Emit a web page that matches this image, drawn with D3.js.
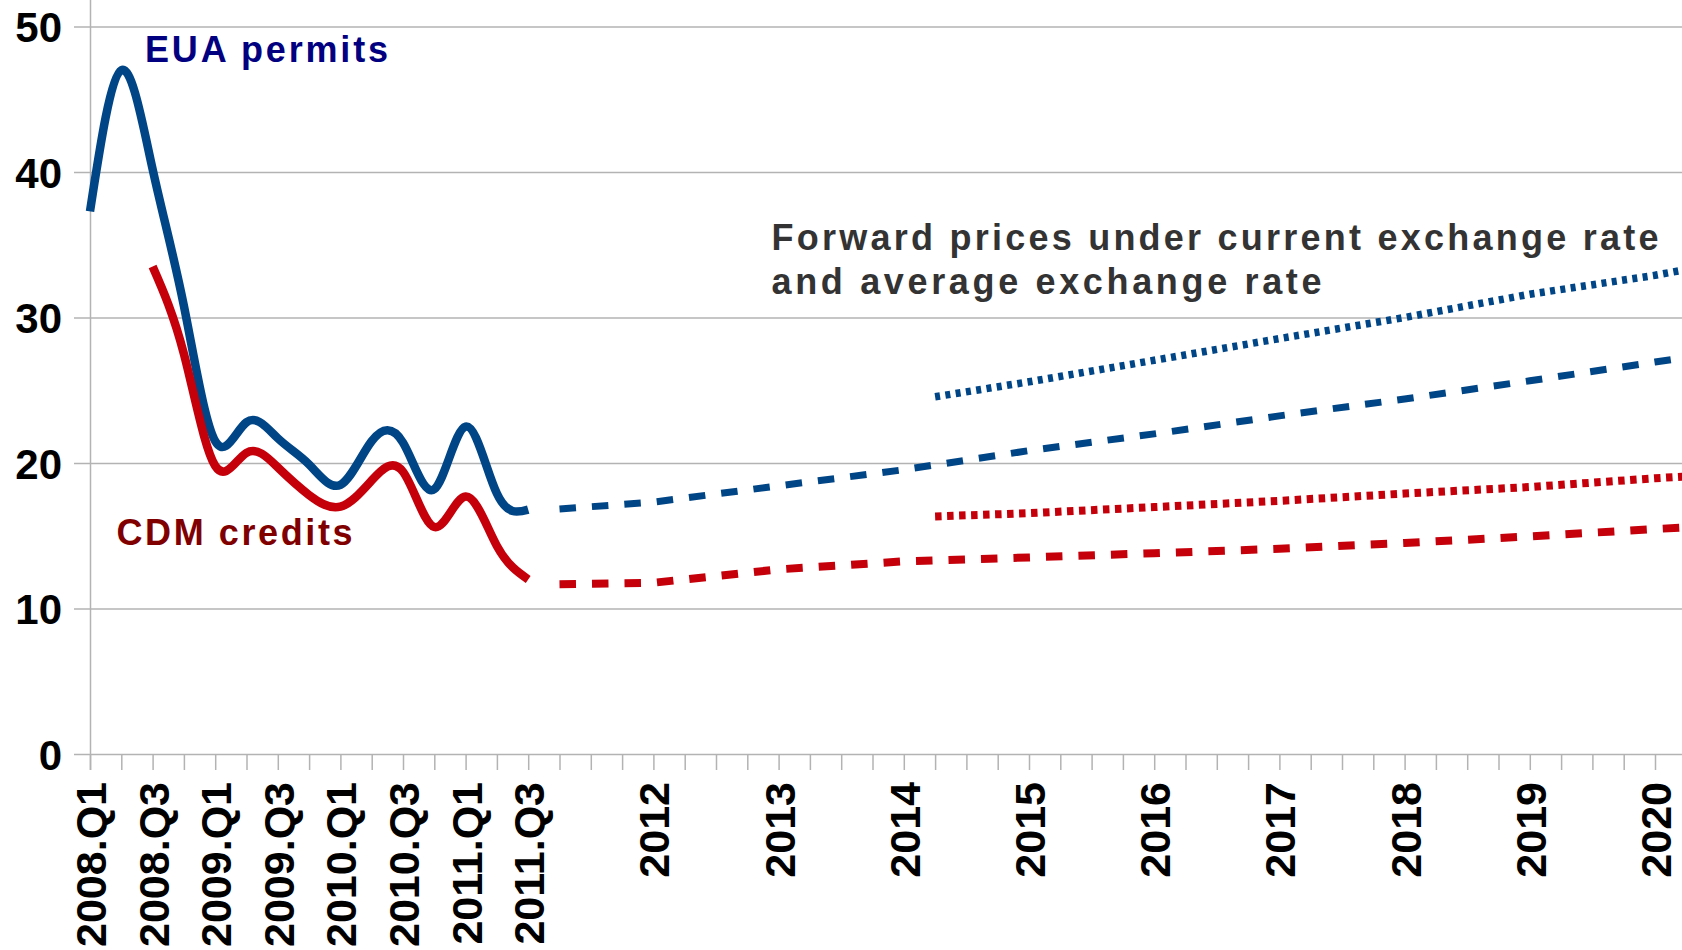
<!DOCTYPE html>
<html>
<head>
<meta charset="utf-8">
<script src="https://cdn.jsdelivr.net/npm/d3@7"></script>
<style>
  html, body { margin: 0; padding: 0; background: #fff; }
  svg { display: block; font-family: "Liberation Sans", Arial, sans-serif; }
</style>
</head>
<body>
<svg id="chart"></svg>
<script>
// every quarter on the category axis
const quarters = [
  "2008.Q1","2008.Q2","2008.Q3","2008.Q4","2009.Q1","2009.Q2","2009.Q3","2009.Q4",
  "2010.Q1","2010.Q2","2010.Q3","2010.Q4","2011.Q1","2011.Q2","2011.Q3","2011.Q4",
  "2012.Q1","2012.Q2","2012.Q3","2012.Q4","2013.Q1","2013.Q2","2013.Q3","2013.Q4",
  "2014.Q1","2014.Q2","2014.Q3","2014.Q4","2015.Q1","2015.Q2","2015.Q3","2015.Q4",
  "2016.Q1","2016.Q2","2016.Q3","2016.Q4","2017.Q1","2017.Q2","2017.Q3","2017.Q4",
  "2018.Q1","2018.Q2","2018.Q3","2018.Q4","2019.Q1","2019.Q2","2019.Q3","2019.Q4",
  "2020.Q1","2020.Q2","2020.Q3","2020.Q4"
];

// labelled ticks
const tickQuarters = ["2008.Q1","2008.Q3","2009.Q1","2009.Q3","2010.Q1","2010.Q3","2011.Q1","2011.Q3",
  "2012.Q3","2013.Q3","2014.Q3","2015.Q3","2016.Q3","2017.Q3","2018.Q3","2019.Q3","2020.Q3"];
const tickText = ["2008.Q1","2008.Q3","2009.Q1","2009.Q3","2010.Q1","2010.Q3","2011.Q1","2011.Q3",
  "2012","2013","2014","2015","2016","2017","2018","2019","2020"];

const yTicks = [0, 10, 20, 30, 40, 50];

// observed quarterly prices
const histQuarters = quarters.slice(0, 15);
const euaHist = [37.3, 47.0, 40.2, 30.8, 21.5, 22.8, 21.7, 19.9, 18.5, 21.5, 21.4, 18.2, 22.5, 17.9, 16.8];
const cdmHist = [null, null, 33.5, 27.5, 19.8, 20.7, 19.7, 17.8, 17.0, 18.8, 19.4, 15.6, 17.7, 14.3, 12.0];

// forward prices, dashed (current exchange rate)
const fwdQuarters = ["2011.Q4","2012.Q3","2013.Q3","2014.Q3","2015.Q3","2016.Q3","2017.Q3","2018.Q3","2019.Q3","2020.Q3","2020.Q4"];
const euaFwdCur = [16.84, 17.31, 18.43, 19.54, 20.85, 22.0, 23.24, 24.4, 25.65, 26.94, 27.25];
const cdmFwdCur = [11.66, 11.77, 12.69, 13.24, 13.51, 13.8, 14.1, 14.5, 14.96, 15.46, 15.58];

// forward prices, dotted (average exchange rate)
const avgQuarters = ["2014.Q4","2015.Q3","2016.Q3","2017.Q3","2018.Q3","2019.Q3","2020.Q3","2020.Q4"];
const euaFwdAvg = [24.55, 25.58, 27.06, 28.55, 30.0, 31.6, 32.9, 33.3];
const cdmFwdAvg = [16.33, 16.55, 16.97, 17.4, 17.9, 18.35, 18.95, 19.08];

const width = 1682, height = 950;
const blue = "#004586", red = "#c5000b", grid = "#b3b3b3";

const svg = d3.select("#chart").attr("width", width).attr("height", height);
svg.append("rect").attr("width", width).attr("height", height).attr("fill", "#fff");

const x = d3.scalePoint().domain(quarters).range([90, 90 + 51 * 31.3]);
const y = d3.scaleLinear().domain([0, 50]).range([754, 26.5]);

// gridlines
svg.append("g").selectAll("line").data(yTicks).join("line")
  .attr("x1", 74).attr("x2", width)
  .attr("y1", d => y(d) + 0.5).attr("y2", d => y(d) + 0.5)
  .attr("stroke", grid).attr("stroke-width", 1.5);

// y axis line
svg.append("line").attr("x1", 90.5).attr("x2", 90.5).attr("y1", 0).attr("y2", 770)
  .attr("stroke", grid).attr("stroke-width", 1.5);

// y labels
const yAxis = svg.append("g").attr("transform", "translate(90,0)")
  .call(d3.axisLeft(y).tickValues(yTicks).tickSize(16).tickPadding(12));
yAxis.select(".domain").remove();
yAxis.selectAll(".tick line").remove();
yAxis.selectAll("text").attr("font-size", 42).attr("font-weight", "bold")
  .attr("font-family", "Liberation Sans, Arial, sans-serif").attr("fill", "#000").attr("dy", "0.36em");

// x axis ticks (every category) and labels
const xAxis = svg.append("g").attr("transform", "translate(0,754)")
  .call(d3.axisBottom(x).tickSize(16).tickFormat(d => {
    const k = tickQuarters.indexOf(d);
    return k < 0 ? "" : tickText[k];
  }));
xAxis.select(".domain").remove();
xAxis.selectAll(".tick line").attr("stroke", grid).attr("stroke-width", 1.5);
xAxis.selectAll("text")
  .attr("transform", "rotate(-90)")
  .attr("x", -28).attr("y", 0).attr("dy", "0.36em")
  .attr("text-anchor", "end")
  .attr("font-size", 43).attr("font-weight", "bold")
  .attr("font-family", "Liberation Sans, Arial, sans-serif").attr("fill", "#000");

// series
const smooth = d3.line()
  .x(d => x(d.q)).y(d => y(d.v))
  .curve(d3.curveNatural);
const straight = d3.line().x(d => x(d.q)).y(d => y(d.v));

function pairs(qs, vs) {
  return qs.map((q, i) => ({ q: q, v: vs[i] })).filter(d => d.v != null);
}

const plot = svg.append("g").attr("fill", "none");

plot.append("path").attr("d", smooth(pairs(histQuarters, euaHist)))
  .attr("stroke", blue).attr("stroke-width", 8.5);
plot.append("path").attr("d", smooth(pairs(histQuarters, cdmHist)))
  .attr("stroke", red).attr("stroke-width", 8.5);

plot.append("path").attr("d", straight(pairs(fwdQuarters, euaFwdCur)))
  .attr("stroke", blue).attr("stroke-width", 7).attr("stroke-dasharray", "16.5,16");
plot.append("path").attr("d", straight(pairs(fwdQuarters, cdmFwdCur)))
  .attr("stroke", red).attr("stroke-width", 8).attr("stroke-dasharray", "16.5,16");

plot.append("path").attr("d", straight(pairs(avgQuarters, euaFwdAvg)))
  .attr("stroke", blue).attr("stroke-width", 7.5).attr("stroke-dasharray", "5,5.4");
plot.append("path").attr("d", straight(pairs(avgQuarters, cdmFwdAvg)))
  .attr("stroke", red).attr("stroke-width", 8).attr("stroke-dasharray", "6.5,5.5");

// annotations
const note = svg.append("g").attr("font-family", "Liberation Sans, Arial, sans-serif")
  .attr("font-weight", "bold").attr("font-size", 36);
function label(tx, x0, y0, color, len) {
  note.append("text").attr("x", x0).attr("y", y0).attr("fill", color)
    .attr("textLength", len).attr("lengthAdjust", "spacing").text(tx);
}
label("EUA permits", 145, 61.5, "#000080", 243);
label("CDM credits", 116.5, 545, "#800000", 236);
label("Forward prices under current exchange rate", 771.5, 250, "#333333", 887);
label("and average exchange rate", 771.5, 293.5, "#333333", 550);
</script>
</body>
</html>
